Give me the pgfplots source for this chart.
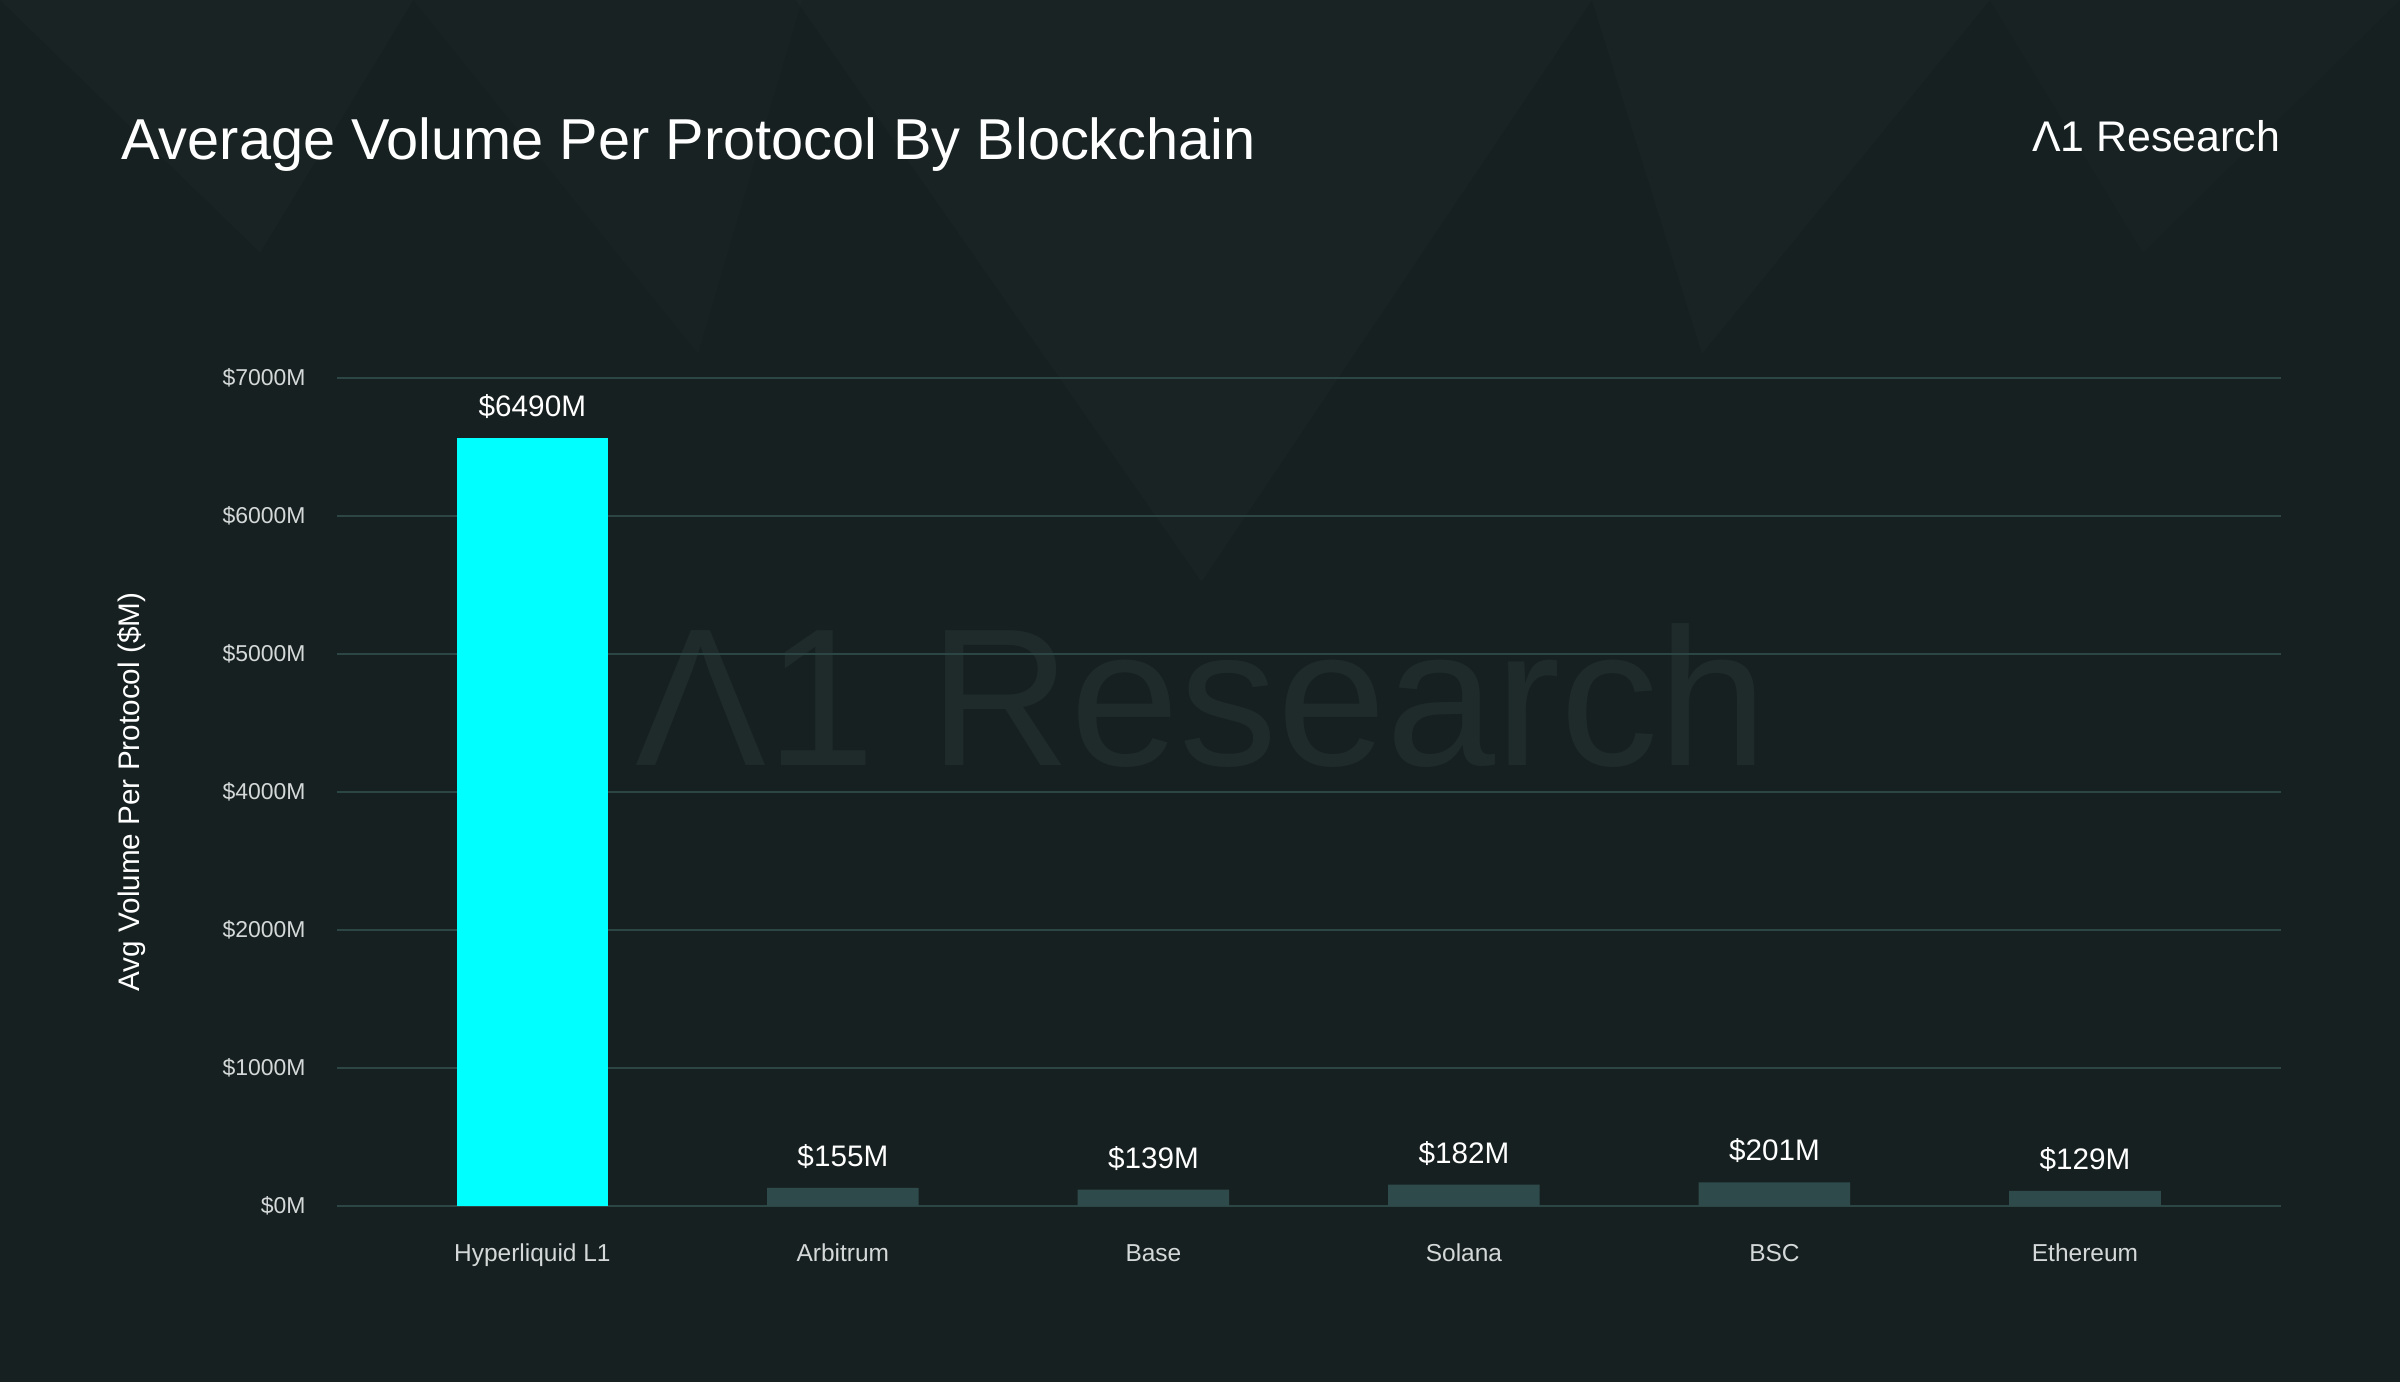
\documentclass[border=0pt]{standalone}
\usepackage{pgfplots}
\pgfplotsset{compat=1.18}
\usepackage{fontspec}
\setmainfont{Liberation Sans}
\definecolor{bg}{HTML}{172020}
\definecolor{barcyan}{HTML}{00FFFF}
\definecolor{bardark}{HTML}{2F4A4A}
\definecolor{gridc}{HTML}{2C4545}
\definecolor{wm}{HTML}{1F2B2B}
\definecolor{ticktxt}{HTML}{D4D8D8}
\begin{document}
\begin{tikzpicture}[x=1pt,y=1pt]
\fill[bg] (0pt,0pt) rectangle (784pt,451.5pt);
\useasboundingbox (0pt,0pt) rectangle (784pt,451.5pt);
% faint background shapes
\fill[white,opacity=0.017] (260pt,451.5pt) -- (520pt,451.5pt) -- (392.5pt,261.5pt) -- cycle;
\fill[white,opacity=0.015] (0pt,451.5pt) -- (135pt,451.5pt) -- (85pt,369pt) -- cycle;
\fill[white,opacity=0.012] (135pt,451.5pt) -- (262pt,451.5pt) -- (228pt,336pt) -- cycle;
\fill[white,opacity=0.015] (520pt,451.5pt) -- (650pt,451.5pt) -- (556pt,336pt) -- cycle;
\fill[white,opacity=0.012] (650pt,451.5pt) -- (784pt,451.5pt) -- (700pt,369pt) -- cycle;
% watermark
\node[wm, anchor=base, inner sep=0pt, font=\fontsize{64}{64}\selectfont] at (392.5pt,201.5pt) {Λ1 Research};
% title and logo
\node[white, anchor=base west, inner sep=0pt, font=\fontsize{18.85}{19}\selectfont] at (39.5pt,399.5pt) {Average Volume Per Protocol By Blockchain};
\node[white, anchor=base east, inner sep=0pt, font=\fontsize{14}{14}\selectfont] at (745pt,402pt) {Λ1 Research};
\begin{axis}[
  at={(110pt,57.5pt)}, anchor=south west,
  scale only axis, width=635pt, height=270.5pt,
  xmin=-0.63, xmax=5.63, ymin=0, ymax=7000,
  ytick={0,1166.667,2333.333,3500,4666.667,5833.333,7000},
  yticklabels={\$0M,\$1000M,\$2000M,\$4000M,\$5000M,\$6000M,\$7000M},
  xtick={0,1,2,3,4,5},
  xticklabels={Hyperliquid L1,Arbitrum,Base,Solana,BSC,Ethereum},
  ymajorgrids, grid style={gridc, line width=0.6pt},
  axis line style={draw=none},
  major tick length=0pt, tick style={draw=none},
  yticklabel style={ticktxt, anchor=east, inner sep=0pt, xshift=-10pt, font=\fontsize{7.5}{9}\selectfont},
  xticklabel style={ticktxt, anchor=base, inner sep=0pt, yshift=-18pt, font=\fontsize{8}{10}\selectfont},
  ylabel={Avg Volume Per Protocol (\$M)},
  ylabel style={white, at={(axis description cs:-0.1055,0.5)}, anchor=center, font=\fontsize{9.7}{11}\selectfont},
  nodes near coords={\$\pgfplotspointmeta M},
  every node near coord/.append style={white, anchor=base, inner sep=0pt, yshift=7pt, font=\fontsize{9.7}{11}\selectfont},
  point meta=explicit symbolic,
  clip=false,
]
\addplot[ybar, bar shift=0pt, bar width=49.5pt, fill=barcyan, draw=none] coordinates {(0,6490) [6490]};
\addplot[ybar, bar shift=0pt, bar width=49.5pt, fill=bardark, draw=none] coordinates {
(1,155) [155]
(2,139) [139]
(3,182) [182]
(4,201) [201]
(5,129) [129]
};
\end{axis}
\end{tikzpicture}
\end{document}
